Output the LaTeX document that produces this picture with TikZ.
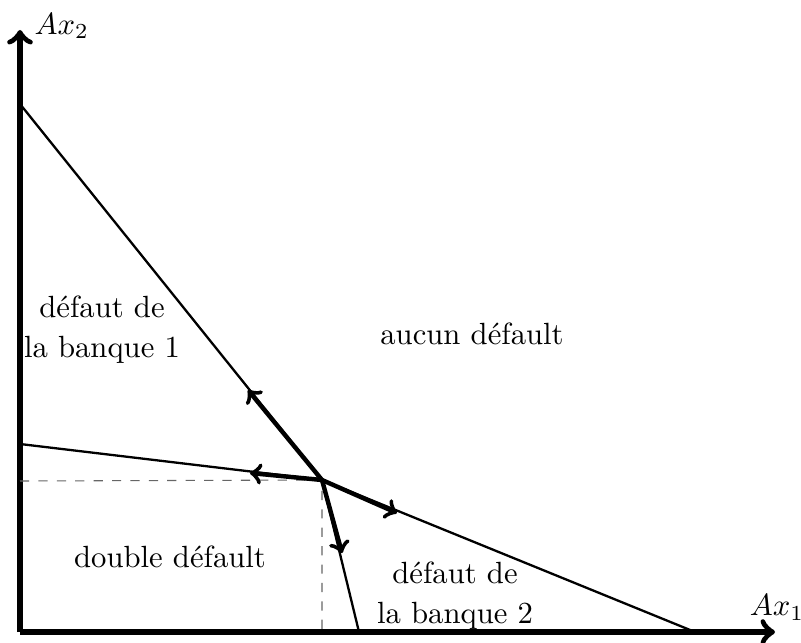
\documentclass[tikz,border=0pt]{standalone}
\usepackage{fontspec}
\usetikzlibrary{calc}
\tikzset{
  >=to,
  axis/.style={line width=1.9pt,->},
  bound/.style={line width=0.75pt},
  flow/.style={line width=1.45pt,->},
  guide/.style={dashed,gray!80!black,line width=0.35pt},
  region/.style={align=center,font=\normalsize,inner sep=0pt},
}
\begin{document}
\begin{tikzpicture}[x=0.326pt,y=-0.326pt]
\useasboundingbox (0,0) rectangle (801,642);
% axes
\coordinate (O) at (20,632);
\coordinate (Y) at (20,30);
\coordinate (X) at (775,632);
\draw[axis] (O) -- (Y);
\draw[axis] (O) -- (X);
\node[anchor=west,inner sep=0pt] (ly) at ($(Y)+(14,-4)$) {$Ax_2$};
\node[anchor=south,inner sep=3pt] (lx) at ($(X)+(2,-2)$) {$Ax_1$};
% boundary lines
\coordinate (P) at (322,480);
\coordinate (A1) at (20,104);
\coordinate (A2) at (359,632);
\coordinate (B1) at (20,444);
\coordinate (B2) at (695,632);
\draw[bound] (A1) -- (P) -- (A2);
\draw[bound] (B1) -- (P) -- (B2);
% dashed guides
\coordinate (Dy) at (20,481);
\coordinate (Dx) at (322,632);
\draw[guide] (Dy) -- (P) -- (Dx);
% flow arrows
\coordinate (F1) at (248,390);
\coordinate (F2) at (250,473);
\coordinate (F3) at (397,513);
\coordinate (F4) at (342,553);
\draw[flow] (P) -- (F1);
\draw[flow] (P) -- (F2);
\draw[flow] (P) -- (F3);
\draw[flow] (P) -- (F4);
% region labels
\node[region] (r1) at (102,330) {défaut de\\[1pt]la banque 1};
\node[region] (r0) at (472,334) {aucun défault};
\node[region] (rd) at (170,557) {double défault};
\node[region] (r2) at (455,596) {défaut de\\[1pt]la banque 2};
\end{tikzpicture}
\end{document}
